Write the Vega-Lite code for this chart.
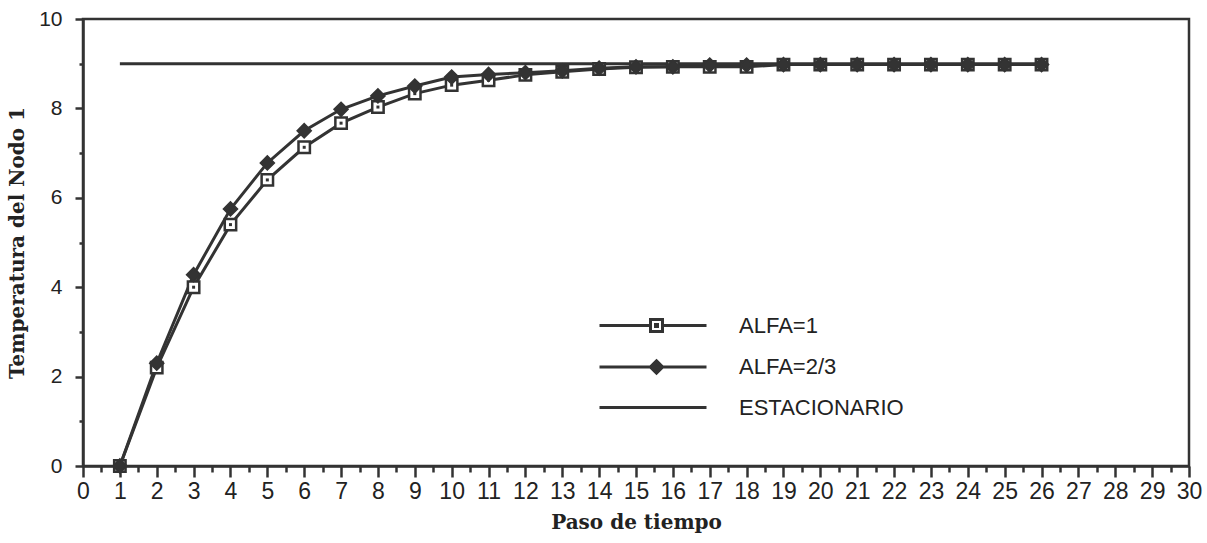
{
  "$schema": "https://vega.github.io/schema/vega-lite/v6.json",
  "width": 1106,
  "height": 447,
  "autosize": {"type": "none"},
  "padding": {"left": 83, "top": 19, "right": 18, "bottom": 77},
  "background": "white",
  "config": {
    "view": {"stroke": "#333", "strokeWidth": 2.5},
    "axis": {
      "grid": false,
      "domainColor": "#333",
      "domainWidth": 2.5,
      "tickColor": "#333",
      "tickWidth": 2.5,
      "labelFont": "Liberation Sans",
      "labelColor": "#222",
      "titleFont": "DejaVu Serif",
      "titleFontWeight": "bold",
      "titleFontSize": 20,
      "titleColor": "#222"
    }
  },
  "data": {
    "values": [
      {"paso": 1, "temp": 0, "serie": "ALFA=1"},
      {"paso": 2, "temp": 2.2, "serie": "ALFA=1"},
      {"paso": 3, "temp": 4.0, "serie": "ALFA=1"},
      {"paso": 4, "temp": 5.4, "serie": "ALFA=1"},
      {"paso": 5, "temp": 6.4, "serie": "ALFA=1"},
      {"paso": 6, "temp": 7.13, "serie": "ALFA=1"},
      {"paso": 7, "temp": 7.67, "serie": "ALFA=1"},
      {"paso": 8, "temp": 8.03, "serie": "ALFA=1"},
      {"paso": 9, "temp": 8.33, "serie": "ALFA=1"},
      {"paso": 10, "temp": 8.52, "serie": "ALFA=1"},
      {"paso": 11, "temp": 8.63, "serie": "ALFA=1"},
      {"paso": 12, "temp": 8.75, "serie": "ALFA=1"},
      {"paso": 13, "temp": 8.82, "serie": "ALFA=1"},
      {"paso": 14, "temp": 8.88, "serie": "ALFA=1"},
      {"paso": 15, "temp": 8.92, "serie": "ALFA=1"},
      {"paso": 16, "temp": 8.93, "serie": "ALFA=1"},
      {"paso": 17, "temp": 8.93, "serie": "ALFA=1"},
      {"paso": 18, "temp": 8.93, "serie": "ALFA=1"},
      {"paso": 19, "temp": 8.98, "serie": "ALFA=1"},
      {"paso": 20, "temp": 8.98, "serie": "ALFA=1"},
      {"paso": 21, "temp": 8.98, "serie": "ALFA=1"},
      {"paso": 22, "temp": 8.98, "serie": "ALFA=1"},
      {"paso": 23, "temp": 8.98, "serie": "ALFA=1"},
      {"paso": 24, "temp": 8.98, "serie": "ALFA=1"},
      {"paso": 25, "temp": 8.98, "serie": "ALFA=1"},
      {"paso": 26, "temp": 8.98, "serie": "ALFA=1"},
      {"paso": 1, "temp": 0, "serie": "ALFA=2/3"},
      {"paso": 2, "temp": 2.3, "serie": "ALFA=2/3"},
      {"paso": 3, "temp": 4.28, "serie": "ALFA=2/3"},
      {"paso": 4, "temp": 5.75, "serie": "ALFA=2/3"},
      {"paso": 5, "temp": 6.78, "serie": "ALFA=2/3"},
      {"paso": 6, "temp": 7.5, "serie": "ALFA=2/3"},
      {"paso": 7, "temp": 7.98, "serie": "ALFA=2/3"},
      {"paso": 8, "temp": 8.28, "serie": "ALFA=2/3"},
      {"paso": 9, "temp": 8.5, "serie": "ALFA=2/3"},
      {"paso": 10, "temp": 8.7, "serie": "ALFA=2/3"},
      {"paso": 11, "temp": 8.76, "serie": "ALFA=2/3"},
      {"paso": 12, "temp": 8.8, "serie": "ALFA=2/3"},
      {"paso": 13, "temp": 8.84, "serie": "ALFA=2/3"},
      {"paso": 14, "temp": 8.9, "serie": "ALFA=2/3"},
      {"paso": 15, "temp": 8.93, "serie": "ALFA=2/3"},
      {"paso": 16, "temp": 8.93, "serie": "ALFA=2/3"},
      {"paso": 17, "temp": 8.97, "serie": "ALFA=2/3"},
      {"paso": 18, "temp": 8.97, "serie": "ALFA=2/3"},
      {"paso": 19, "temp": 8.98, "serie": "ALFA=2/3"},
      {"paso": 20, "temp": 8.98, "serie": "ALFA=2/3"},
      {"paso": 21, "temp": 8.98, "serie": "ALFA=2/3"},
      {"paso": 22, "temp": 8.98, "serie": "ALFA=2/3"},
      {"paso": 23, "temp": 8.98, "serie": "ALFA=2/3"},
      {"paso": 24, "temp": 8.98, "serie": "ALFA=2/3"},
      {"paso": 25, "temp": 8.98, "serie": "ALFA=2/3"},
      {"paso": 26, "temp": 8.98, "serie": "ALFA=2/3"},
      {"paso": 1, "temp": 9, "serie": "ESTACIONARIO"},
      {"paso": 26, "temp": 9, "serie": "ESTACIONARIO"}
    ]
  },
  "encoding": {
    "x": {
      "field": "paso",
      "type": "quantitative",
      "scale": {"domain": [0, 30], "nice": false, "zero": false},
      "axis": {
        "title": "Paso de tiempo",
        "values": [0,0.5,1,1.5,2,2.5,3,3.5,4,4.5,5,5.5,6,6.5,7,7.5,8,8.5,9,9.5,10,10.5,11,11.5,12,12.5,13,13.5,14,14.5,15,15.5,16,16.5,17,17.5,18,18.5,19,19.5,20,20.5,21,21.5,22,22.5,23,23.5,24,24.5,25,25.5,26,26.5,27,27.5,28,28.5,29,29.5,30],
        "labelExpr": "datum.value % 1 === 0 ? format(datum.value, 'd') : ''",
        "labelOverlap": false,
        "labelFlush": false,
        "labelFontSize": 23,
        "tickSize": {"condition": {"test": "datum.value % 1 !== 0", "value": 6}, "value": 11},
        "labelPadding": 3,
        "titlePadding": 9
      }
    },
    "y": {
      "field": "temp",
      "type": "quantitative",
      "scale": {"domain": [0, 10], "nice": false},
      "axis": {
        "title": "Temperatura del Nodo 1",
        "values": [0,1,2,3,4,5,6,7,8,9,10],
        "labelExpr": "datum.value % 2 === 0 ? datum.label : ''",
        "labelOverlap": false,
        "labelFontSize": 21,
        "tickSize": {"condition": {"test": "datum.value % 2 !== 0", "value": 4}, "value": 8},
        "labelPadding": 13,
        "titlePadding": 11
      }
    }
  },
  "layer": [
    {
      "mark": {"type": "line", "stroke": "#333", "strokeWidth": 3},
      "encoding": {"detail": {"field": "serie"}}
    },
    {
      "transform": [{"filter": "datum.serie === 'ALFA=1'"}],
      "mark": {"type": "point", "shape": "square", "size": 130, "filled": true, "fill": "white", "stroke": "#333", "strokeWidth": 2.5, "opacity": 1}
    },
    {
      "transform": [{"filter": "datum.serie === 'ALFA=1'"}],
      "mark": {"type": "point", "shape": "square", "size": 9, "filled": true, "fill": "#333", "opacity": 1}
    },
    {
      "transform": [{"filter": "datum.serie === 'ALFA=2/3'"}],
      "mark": {"type": "point", "shape": "diamond", "size": 200, "filled": true, "fill": "#333", "stroke": "#333", "strokeWidth": 1.5, "opacity": 1}
    },
    {
      "mark": {"type": "point", "opacity": 0, "filled": true},
      "encoding": {
        "shape": {
          "field": "serie",
          "type": "nominal",
          "scale": {
            "domain": ["ALFA=1", "ALFA=2/3", "ESTACIONARIO"],
            "range": [
              "M-9.7,0H-4.6M-3.4,0H1M-4.6,-0.6H-3.4V0.6H-4.6ZM-4.1,-0.1H-3.9V0.1H-4.1Z",
              "M-9.7,0H1M-4,-0.62L-3.38,0L-4,0.62L-4.62,0Z",
              "M-9.7,0H1"
            ]
          },
          "legend": {
            "title": null,
            "orient": "none",
            "legendX": 602,
            "legendY": 295,
            "padding": 0,
            "symbolSize": 400,
            "labelFont": "Liberation Sans",
            "labelFontSize": 22,
            "labelLimit": 400,
            "labelColor": "#222",
            "labelOffset": 31,
            "rowPadding": 16.5,
            "encode": {
              "symbols": {
                "update": {
                  "stroke": {"value": "#333"},
                  "strokeWidth": {"value": 3},
                  "opacity": {"value": 1}
                }
              }
            }
          }
        },
        "fill": {
          "field": "serie",
          "type": "nominal",
          "scale": {
            "domain": ["ALFA=1", "ALFA=2/3", "ESTACIONARIO"],
            "range": ["white", "#333", "#333"]
          },
          "legend": {
            "title": null,
            "orient": "none",
            "legendX": 602,
            "legendY": 295,
            "padding": 0,
            "symbolSize": 400,
            "labelFont": "Liberation Sans",
            "labelFontSize": 22,
            "labelLimit": 400,
            "labelColor": "#222",
            "labelOffset": 31,
            "rowPadding": 16.5,
            "encode": {
              "symbols": {
                "update": {
                  "stroke": {"value": "#333"},
                  "strokeWidth": {"value": 3},
                  "opacity": {"value": 1}
                }
              }
            }
          }
        }
      }
    }
  ]
}
